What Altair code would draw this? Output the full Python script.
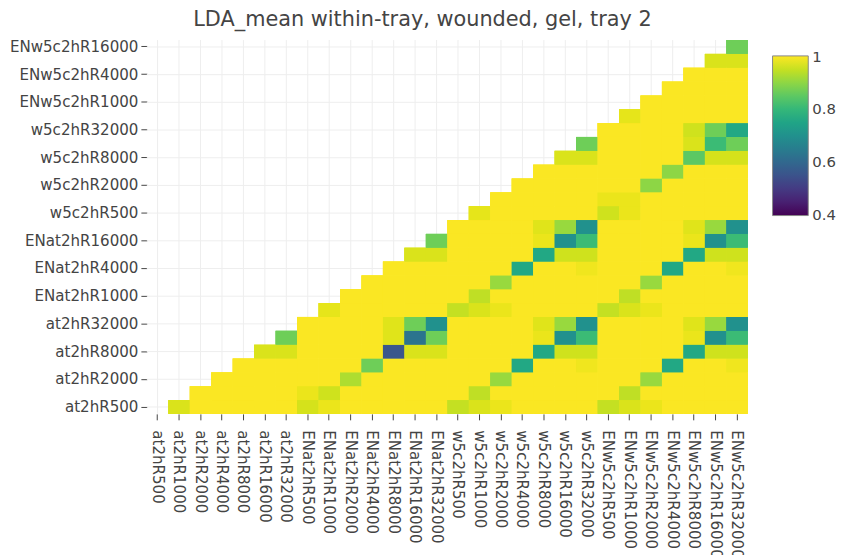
import altair as alt
import pandas as pd

categories = [
    "at2hR500", "at2hR1000", "at2hR2000", "at2hR4000", "at2hR8000", "at2hR16000", "at2hR32000",
    "ENat2hR500", "ENat2hR1000", "ENat2hR2000", "ENat2hR4000", "ENat2hR8000", "ENat2hR16000", "ENat2hR32000",
    "w5c2hR500", "w5c2hR1000", "w5c2hR2000", "w5c2hR4000", "w5c2hR8000", "w5c2hR16000", "w5c2hR32000",
    "ENw5c2hR500", "ENw5c2hR1000", "ENw5c2hR2000", "ENw5c2hR4000", "ENw5c2hR8000", "ENw5c2hR16000", "ENw5c2hR32000",
]

# y axis shows the first 27 categories (row i holds the values for columns i+1 .. 27)
y_categories = categories[:27]

y_tick_labels = [
    "at2hR500", "at2hR2000", "at2hR8000", "at2hR32000", "ENat2hR1000", "ENat2hR4000", "ENat2hR16000",
    "w5c2hR500", "w5c2hR2000", "w5c2hR8000", "w5c2hR32000", "ENw5c2hR1000", "ENw5c2hR4000", "ENw5c2hR16000",
]

legend_ticks = [0.4, 0.6, 0.8, 1.0]

# upper-triangle values, one list per row (columns to the right of the diagonal)
z_rows = [
    [0.97, 1, 1, 1, 1, 1, 0.965, 0.985, 1, 1, 1, 1, 1, 0.95, 0.97, 0.985, 1, 1, 1, 1, 0.95, 0.97, 0.985, 1, 1, 1, 1],
    [1, 1, 1, 1, 1, 0.985, 0.96, 1, 1, 1, 1, 1, 1, 0.945, 1, 1, 1, 1, 1, 1, 0.945, 1, 1, 1, 1, 1],
    [1, 1, 1, 1, 1, 1, 0.93, 1, 1, 1, 1, 1, 1, 0.91, 1, 1, 1, 1, 1, 1, 0.91, 1, 1, 1, 1],
    [1, 1, 1, 1, 1, 1, 0.87, 1, 1, 1, 1, 1, 1, 0.76, 1, 1, 0.99, 1, 1, 1, 0.76, 1, 1, 0.99],
    [0.97, 0.97, 1, 1, 1, 1, 0.56, 0.97, 0.97, 1, 1, 1, 1, 0.76, 0.96, 0.96, 1, 1, 1, 1, 0.76, 0.96, 0.96],
    [0.87, 1, 1, 1, 1, 0.975, 0.63, 0.87, 1, 1, 1, 1, 0.985, 0.70, 0.81, 1, 1, 1, 1, 0.985, 0.70, 0.81],
    [1, 1, 1, 1, 0.975, 0.87, 0.70, 1, 1, 1, 1, 0.975, 0.91, 0.70, 1, 1, 1, 1, 0.975, 0.91, 0.70],
    [0.98, 1, 1, 1, 1, 1, 0.95, 0.97, 0.985, 1, 1, 1, 1, 0.95, 0.97, 0.985, 1, 1, 1, 1],
    [1, 1, 1, 1, 1, 1, 0.945, 1, 1, 1, 1, 1, 1, 0.945, 1, 1, 1, 1, 1],
    [1, 1, 1, 1, 1, 1, 0.91, 1, 1, 1, 1, 1, 1, 0.91, 1, 1, 1, 1],
    [1, 1, 1, 1, 1, 1, 0.76, 1, 1, 0.99, 1, 1, 1, 0.76, 1, 1, 0.99],
    [0.97, 0.97, 1, 1, 1, 1, 0.76, 0.96, 0.96, 1, 1, 1, 1, 0.76, 0.96, 0.96],
    [0.87, 1, 1, 1, 1, 0.985, 0.70, 0.81, 1, 1, 1, 1, 0.985, 0.70, 0.81],
    [1, 1, 1, 1, 0.975, 0.91, 0.70, 1, 1, 1, 1, 0.975, 0.91, 0.70],
    [0.98, 1, 1, 1, 1, 1, 0.96, 0.985, 1, 1, 1, 1, 1],
    [1, 1, 1, 1, 1, 0.985, 0.985, 1, 1, 1, 1, 1],
    [1, 1, 1, 1, 1, 1, 0.90, 1, 1, 1, 1],
    [1, 1, 1, 1, 1, 1, 0.90, 1, 1, 1],
    [0.97, 0.97, 1, 1, 1, 1, 0.85, 0.965, 0.965],
    [0.87, 1, 1, 1, 1, 0.97, 0.81, 0.87],
    [1, 1, 1, 1, 0.96, 0.87, 0.76],
    [0.98, 1, 1, 1, 1, 1],
    [1, 1, 1, 1, 1],
    [1, 1, 1, 1],
    [1, 1, 1],
    [0.97, 0.97],
    [0.87],
]

records = []
for i, row in enumerate(z_rows):
    for k, v in enumerate(row):
        records.append({"x": categories[i + 1 + k], "y": y_categories[i], "value": v})
df = pd.DataFrame(records)

FONT = "DejaVu Sans"
TXT = "#444444"
GRID = "#eeeeee"

x_scale = alt.Scale(domain=categories, paddingInner=0, paddingOuter=0)
y_scale = alt.Scale(domain=list(reversed(y_categories)), paddingInner=0, paddingOuter=0)
x_axis = alt.Axis(
    labelAngle=90,
    labelAlign="left",
    labelBaseline="middle",
    labelOverlap=False,
    labelPadding=10,
    tickSize=6,
    grid=False,
)
y_axis = alt.Axis(values=y_tick_labels, labelPadding=3, tickSize=6, labelOverlap=False, grid=False)
# a hair wider than [0.4, 1] so the end labels of the colour bar sit centred on its ends
color_scale = alt.Scale(scheme="viridis", domain=[0.397, 1.003])

# grid lines drawn underneath the heatmap cells
grid_x = (
    alt.Chart(pd.DataFrame({"x": categories}))
    .mark_rule(color=GRID, strokeWidth=1)
    .encode(x=alt.X("x:N", title=None, scale=x_scale, axis=x_axis))
)
grid_y = (
    alt.Chart(pd.DataFrame({"y": y_tick_labels}))
    .mark_rule(color=GRID, strokeWidth=1)
    .encode(y=alt.Y("y:N", title=None, scale=y_scale, axis=y_axis))
)

cells = (
    alt.Chart(df)
    .mark_rect()
    .encode(
        x=alt.X("x:N", title=None, scale=x_scale, axis=x_axis),
        y=alt.Y("y:N", title=None, scale=y_scale, axis=y_axis),
        color=alt.Color(
            "value:Q",
            scale=color_scale,
            legend=alt.Legend(
                title=None,
                orient="none",
                legendX=631,
                legendY=16,
                direction="vertical",
                gradientLength=161,
                gradientThickness=36,
                gradientStrokeColor="#888888",
                gradientStrokeWidth=1,
                values=legend_ticks,
                format=".1~f",
                labelFontSize=15,
                labelColor=TXT,
                labelFont=FONT,
                labelOffset=4,
                padding=0,
            ),
        ),
        tooltip=["x:N", "y:N", "value:Q"],
    )
)

# the cell layer is drawn three times so that anti-aliasing seams between cells vanish
chart = (
    alt.layer(grid_x, grid_y, cells, cells, cells)
    .properties(
        width=606,
        height=377,
        autosize=alt.AutoSizeParams(type="none"),
        padding={"left": 140, "top": 30, "right": 92, "bottom": 140},
        title=alt.Title(
            "LDA_mean within-tray, wounded, gel, tray 2",
            fontSize=21,
            font=FONT,
            color=TXT,
            fontWeight="normal",
            anchor="middle",
            dx=-25,
            offset=10,
        ),
    )
    .configure(background="white")
    .configure_view(strokeWidth=0)
    .configure_axis(
        labelFont=FONT,
        labelFontSize=15.2,
        labelColor=TXT,
        tickColor=TXT,
        domain=False,
    )
)

chart.save("out.html", embed_options={"renderer": "svg", "actions": False})
